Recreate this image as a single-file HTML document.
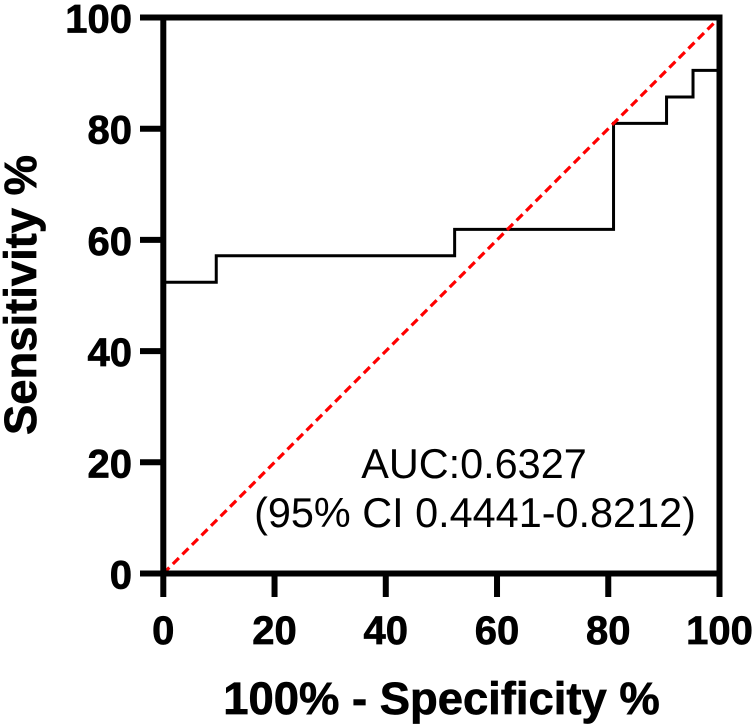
<!DOCTYPE html>
<html>
<head>
<meta charset="utf-8">
<style>
html,body{margin:0;padding:0;background:#fff;width:755px;height:727px;overflow:hidden}
svg{display:block}
text{font-family:"Liberation Sans",Arial,sans-serif;fill:#000}
.tick{font-size:40px;font-weight:bold;stroke:#000;stroke-width:0.7px}
.title{font-size:45.4px;font-weight:bold;stroke:#000;stroke-width:0.7px}
.note{font-size:41.4px}
</style>
</head>
<body>
<svg id="chart" width="755" height="727" viewBox="0 0 755 727" xmlns="http://www.w3.org/2000/svg">
  <text class="title" x="441.5" y="714" text-anchor="middle">100% - Specificity %</text>
  <text class="title" transform="translate(36 295) rotate(-90)" text-anchor="middle">Sensitivity %</text>
  <text class="note" x="474" y="478" text-anchor="middle">AUC:0.6327</text>
  <text class="note" x="475" y="527" text-anchor="middle">(95% CI 0.4441-0.8212)</text>
</svg>
<script>
var xTicks = [0, 20, 40, 60, 80, 100];
var yTicks = [0, 20, 40, 60, 80, 100];
var rocSpecificity = [0, 9.52, 9.52, 52.38, 52.38, 80.95, 80.95, 90.48, 90.48, 95.24, 95.24, 100];
var rocSensitivity = [52.38, 52.38, 57.14, 57.14, 61.9, 61.9, 80.95, 80.95, 85.71, 85.71, 90.48, 90.48];
var refX = [0, 100];
var refY = [0, 100];

var svg = document.getElementById('chart');
var NS = 'http://www.w3.org/2000/svg';
function xScale(v) { return 163.3 + v * (719.5 - 163.3) / 100; }
function yScale(v) { return 573.5 - v * (573.5 - 17.5) / 100; }
function make(tag, attrs) {
  var el = document.createElementNS(NS, tag);
  for (var k in attrs) el.setAttribute(k, attrs[k]);
  svg.appendChild(el);
  return el;
}
function points(xs, ys) {
  return xs.map(function (x, i) { return xScale(x).toFixed(2) + ',' + yScale(ys[i]).toFixed(2); }).join(' ');
}

var roc = make('polyline', { points: points(rocSpecificity, rocSensitivity), fill: 'none', stroke: '#000', 'stroke-width': 3, 'stroke-linejoin': 'miter' });



var ref = make('polyline', { points: points(refX, refY), fill: 'none', stroke: '#ff0000', 'stroke-width': 3.2, 'stroke-dasharray': '8.5 5' });



var frame = make('path', {
  d: 'M' + xScale(0) + ' ' + yScale(100) + 'H' + xScale(100) + 'V' + yScale(0) + 'H' + xScale(0) + 'Z',
  fill: 'none', stroke: '#000', 'stroke-width': 6, 'stroke-linejoin': 'miter'
});



xTicks.forEach(function (v) {
  var t = make('line', { x1: xScale(v), x2: xScale(v), y1: yScale(0), y2: 597, stroke: '#000', 'stroke-width': 6 });
  
  
  var l = make('text', { x: xScale(v), y: 644, 'text-anchor': 'middle', 'class': 'tick' });
  
  
  l.textContent = v;
});
yTicks.forEach(function (v) {
  var t = make('line', { x1: 140, x2: xScale(0), y1: yScale(v), y2: yScale(v), stroke: '#000', 'stroke-width': 6 });
  
  
  var l = make('text', { x: 132, y: yScale(v) + 15, 'text-anchor': 'end', 'class': 'tick' });
  
  
  l.textContent = v;
});
</script>
</body>
</html>
